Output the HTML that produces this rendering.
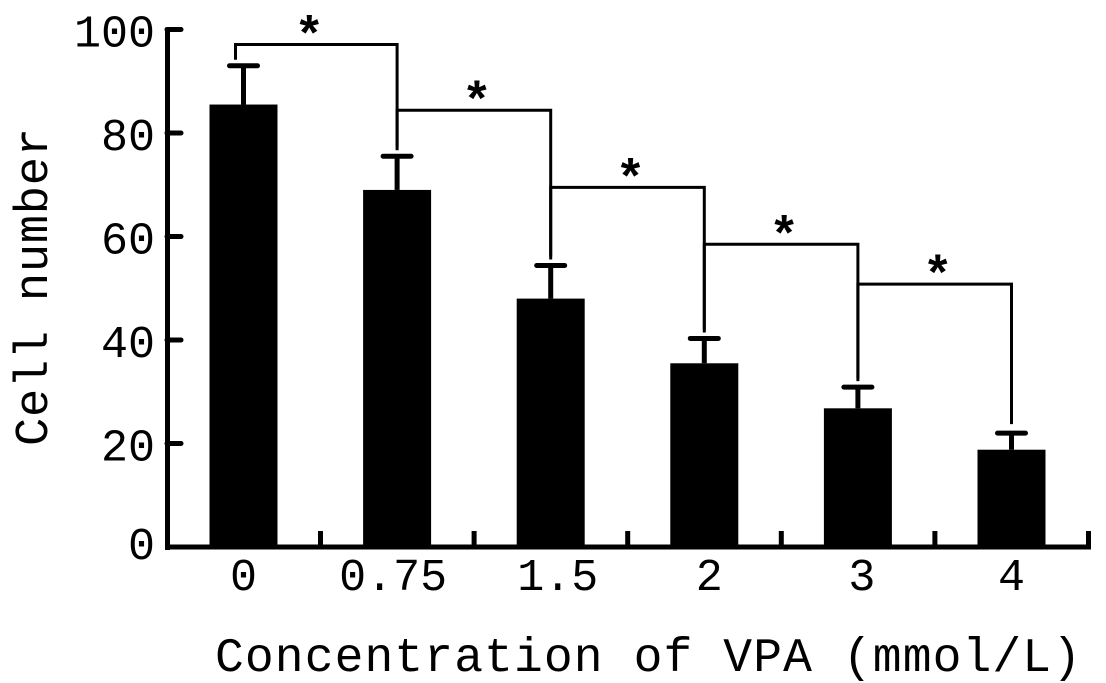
<!DOCTYPE html>
<html lang="en">
<head>
<meta charset="utf-8">
<title>Cell number vs VPA concentration</title>
<style>
html,body{margin:0;padding:0;background:#fff;width:1106px;height:683px;overflow:hidden}
svg{display:block}
text{font-family:"Liberation Mono",monospace;fill:#000}
</style>
</head>
<body>
<svg id="chart" xmlns="http://www.w3.org/2000/svg" width="1106" height="683" viewBox="0 0 1106 683"></svg>
<script>
const categories = ["0", "0.75", "1.5", "2", "3", "4"];
const cellCounts = [85.5, 69, 48, 35.5, 26.8, 18.8];
const errorTops = [93, 75.5, 54.4, 40.3, 30.9, 22];
const bracketLevels = [97.1, 84.4, 69.5, 58.5, 50.8];
const yTickLabels = [0, 20, 40, 60, 80, 100];

const svg = document.getElementById('chart');
const NS = 'http://www.w3.org/2000/svg';

function yScale(v) { return 547 - v * 5.175; }
function xScale(i) { return 243.5 + i * 153.6; }

function make(tag, attrs, parent, txt) {
  const el = document.createElementNS(NS, tag);
  for (const k in attrs) el.setAttribute(k, attrs[k]);
  if (txt !== undefined) el.textContent = txt;
  (parent || svg).appendChild(el);
  return el;
}

/* axes */
const yAxis = make('line', {x1: 167.5, y1: yScale(100) - 2, x2: 167.5, y2: 550, stroke: '#000', 'stroke-width': 5});


const xAxis = make('line', {x1: 165, y1: 547, x2: 1091, y2: 547, stroke: '#000', 'stroke-width': 5});



/* y ticks */
yTickLabels.forEach(function (v) {
  if (v > 0) {
    const tick = make('line', {x1: 167, y1: yScale(v), x2: 181, y2: yScale(v), stroke: '#000', 'stroke-width': 5, 'stroke-linecap': 'round'});
    
    
  }
  const label = make('text', {x: 155, y: yScale(v) + (v === 0 ? 12 : 17), 'text-anchor': 'end', 'font-size': 45}, svg, String(v));
  
  
});

/* x ticks between categories and at the end */
categories.forEach(function (c, i) {
  const tx = xScale(i) + 77;
  const tick = make('line', {x1: tx, y1: 547, x2: tx, y2: 531, stroke: '#000', 'stroke-width': 5});
  
  
});

/* horizontal nudges that keep centred labels where the original figure put them */
const labelNudge = {"0.75": -4, "1.5": 7, "2": 5, "3": 4, "4": 0};

/* bars and error bars */
categories.forEach(function (c, i) {
  const cx = xScale(i);
  const errLine = make('line', {x1: cx, y1: yScale(errorTops[i]), x2: cx, y2: yScale(cellCounts[i]), stroke: '#000', 'stroke-width': 5});
  
  
  const errCap = make('line', {x1: cx - 14, y1: yScale(errorTops[i]), x2: cx + 14, y2: yScale(errorTops[i]), stroke: '#000', 'stroke-width': 5, 'stroke-linecap': 'round'});
  
  
  const bar = make('rect', {x: cx - 34, y: yScale(cellCounts[i]), width: 68, height: 549 - yScale(cellCounts[i]), fill: '#000'});
  
  
  const label = make('text', {x: cx + (labelNudge[c] || 0), y: 590, 'text-anchor': 'middle', 'font-size': 45}, svg, c);
  
  
});

/* significance brackets */
bracketLevels.forEach(function (lvl, i) {
  const xa = xScale(i) + (i === 0 ? -8 : 0);
  const xb = xScale(i + 1);
  const ya = yScale(errorTops[i]) - 6;
  const yb = yScale(errorTops[i + 1]) - 9;
  const yl = yScale(lvl);
  const path = make('path', {d: 'M' + xa + ' ' + ya + 'V' + yl + 'H' + xb + 'V' + yb, fill: 'none', stroke: '#000', 'stroke-width': 3});
  
  
  const star = make('text', {x: (xa + xb) / 2 + (i === 0 ? -7 : 3), y: yl + 7, 'text-anchor': 'middle', 'font-size': 50, 'font-weight': 'bold'}, svg, '*');
  
  
});

/* axis titles */
const xTitle = make('text', {x: 215, y: 671, 'font-size': 48, textLength: 866, lengthAdjust: 'spacing'}, svg, 'Concentration of VPA (mmol/L)');


const yTitle = make('text', {x: 0, y: 0, 'font-size': 47, textLength: 318, lengthAdjust: 'spacing', transform: 'translate(47,446) rotate(-90)'}, svg, 'Cell number');


</script>
</body>
</html>
